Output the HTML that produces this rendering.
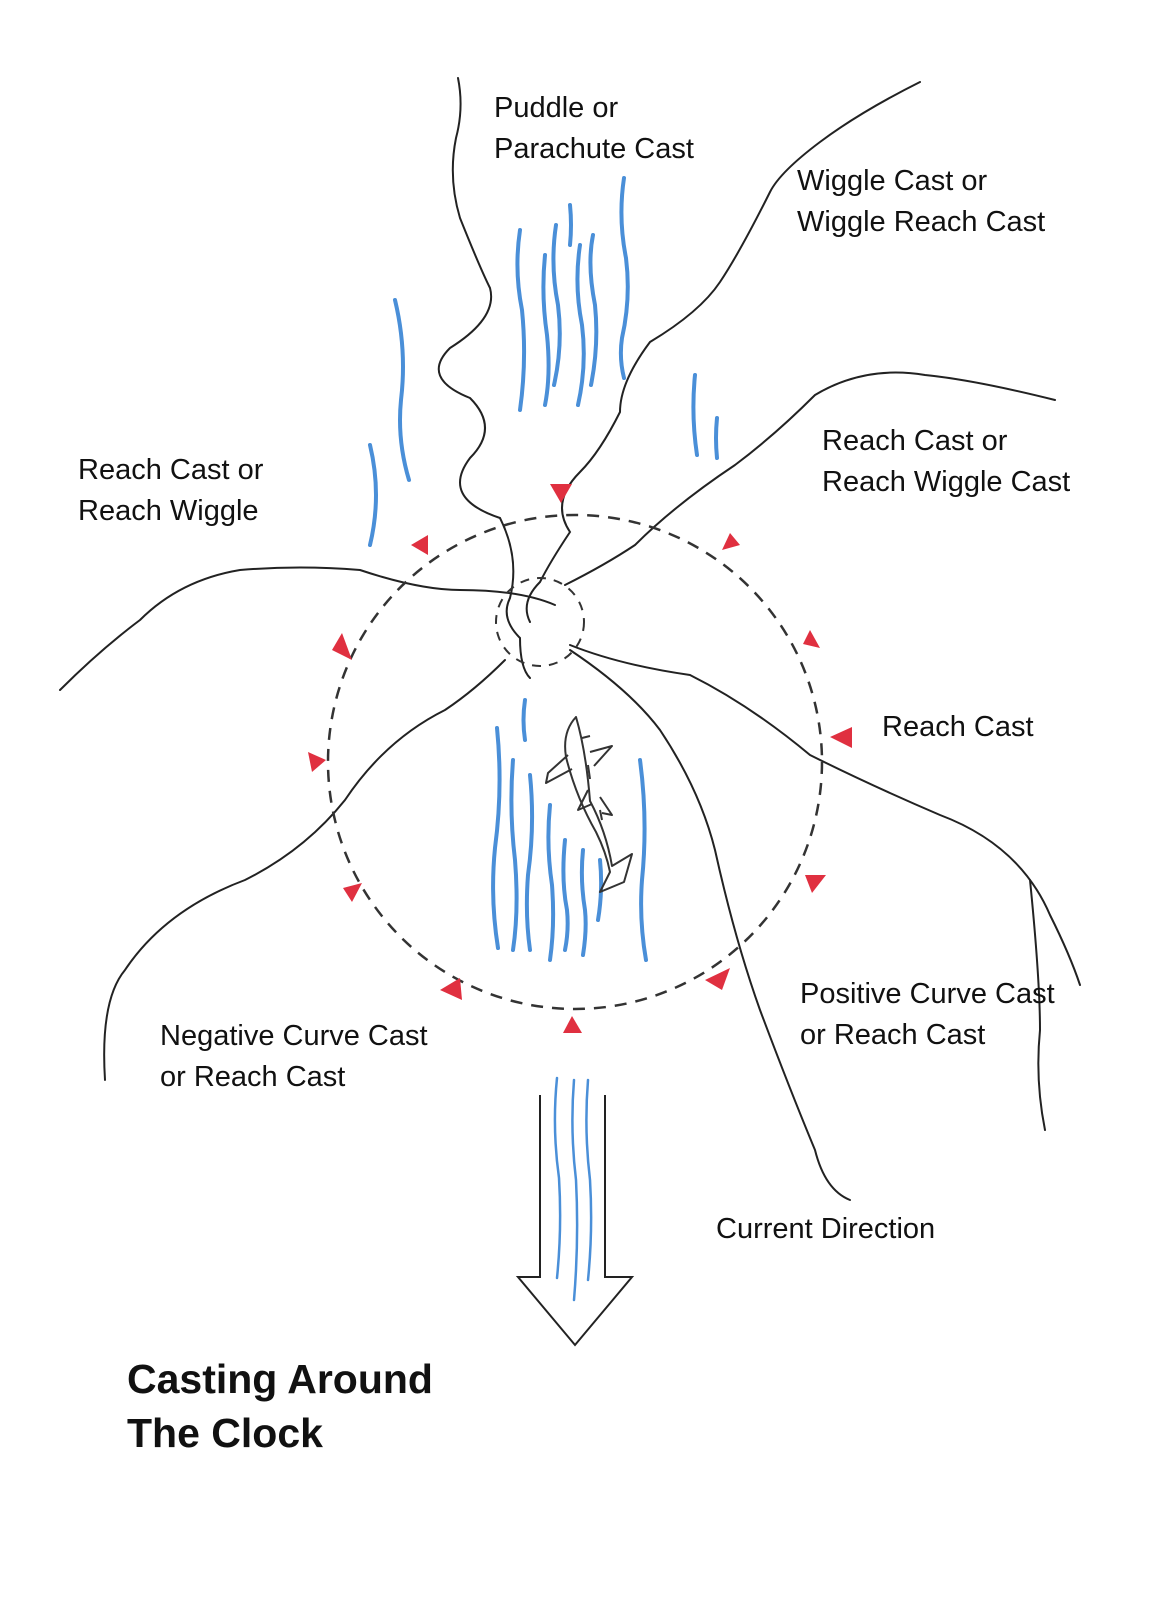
<!DOCTYPE html>
<html><head><meta charset="utf-8"><style>
html,body{margin:0;padding:0;background:#fff}
svg{display:block}
text{font-family:"Liberation Sans",sans-serif;font-size:29px;fill:#111}
</style></head><body>
<svg width="1163" height="1600" viewBox="0 0 1163 1600">
<g stroke="#222" stroke-width="2" fill="#fff">
<path d="M540 1095 L540 1277 L518 1277 L575 1345 L632 1277 L605 1277 L605 1095"/>
</g>
<g fill="none" stroke="#4a8fd8" stroke-width="4" stroke-linecap="round">
<path d="M624 178 q-6 40 2 80 q5 40 -4 80 q-3 20 2 40"/>
<path d="M593 235 q-6 30 2 70 q4 40 -4 80"/>
<path d="M570 205 q2 20 0 40"/>
<path d="M556 225 q-6 40 2 80 q5 40 -4 80"/>
<path d="M580 245 q-6 40 2 80 q5 40 -4 80"/>
<path d="M520 230 q-6 40 2 80 q5 50 -2 100"/>
<path d="M545 255 q-4 40 2 80 q4 40 -2 70"/>
<path d="M395 300 q12 50 6 100 q-4 40 8 80"/>
<path d="M370 445 q12 50 0 100"/>
<path d="M695 375 q-4 40 2 80"/>
<path d="M717 418 q-2 20 0 40"/>
<path d="M525 700 q-3 20 0 40"/>
<path d="M497 728 q6 60 -2 120 q-5 50 3 100"/>
<path d="M513 760 q-4 50 2 100 q4 50 -2 90"/>
<path d="M530 775 q5 50 -2 100 q-3 40 2 75"/>
<path d="M550 805 q-4 40 2 80 q3 40 -2 75"/>
<path d="M565 840 q-4 40 2 70 q2 20 -2 40"/>
<path d="M583 850 q-3 30 2 60 q2 20 -2 45"/>
<path d="M600 860 q3 30 -2 60"/>
<path d="M640 760 q8 60 2 120 q-3 40 4 80"/>
</g>
<g fill="none" stroke="#4a8fd8" stroke-width="2.5" stroke-linecap="round">
<path d="M557 1078 q-5 50 2 100 q3 50 -2 100"/>
<path d="M574 1080 q-4 50 2 100 q3 60 -2 120"/>
<path d="M588 1080 q-4 50 2 100 q3 50 -2 100"/>
</g>
<g fill="none" stroke="#222" stroke-width="2" stroke-linecap="round">
<path d="M458 78 q6 30 -2 60 q-8 40 4 80 q20 50 30 70 q8 30 -40 60 q-30 30 20 50 q30 30 0 60 q-30 40 30 60 q20 40 10 80 q-10 20 10 40 q0 30 10 40"/>
<path d="M920 82 q-60 30 -100 60 q-40 30 -50 50 q-30 60 -50 90 q-20 30 -70 60 q-30 40 -30 70 q-20 40 -40 60 q-30 30 -10 60 q-20 30 -30 50 q-20 20 -10 40"/>
<path d="M1055 400 q-80 -20 -130 -25 q-60 -10 -110 20 q-40 40 -80 70 q-60 40 -100 80 q-30 20 -70 40"/>
<path d="M60 690 q40 -40 80 -70 q40 -40 100 -50 q60 -5 120 0 q60 20 100 20 q60 0 95 15"/>
<path d="M105 1080 q-5 -80 20 -110 q40 -60 120 -90 q60 -30 100 -80 q40 -60 100 -90 q30 -20 60 -50"/>
<path d="M570 645 q50 20 120 30 q60 30 120 80 q60 30 130 60 q80 30 110 100 q20 40 30 70"/>
<path d="M1030 880 q10 100 10 150 q-5 50 5 100"/>
<path d="M570 650 q60 40 90 80 q40 60 55 120 q20 90 45 160 q30 80 55 140 q10 40 35 50"/>
</g>
<circle cx="575" cy="762" r="247" fill="none" stroke="#333" stroke-width="2.5" stroke-dasharray="12 9"/>
<circle cx="540" cy="622" r="44" fill="none" stroke="#333" stroke-width="2" stroke-dasharray="9 8"/>
<g fill="#e03040">
<polygon points="550,484 572,484 561,503"/>
<polygon points="411,545 428,535 428,555"/>
<polygon points="722,550 740,545 730,533"/>
<polygon points="332,650 352,660 342,633"/>
<polygon points="803,644 820,648 810,630"/>
<polygon points="308,752 326,760 312,772"/>
<polygon points="830,737 852,727 852,748"/>
<polygon points="343,888 362,883 352,902"/>
<polygon points="805,875 826,875 812,893"/>
<polygon points="440,990 460,978 462,1000"/>
<polygon points="705,980 730,968 722,990"/>
<polygon points="563,1033 582,1033 572,1016"/>
</g>
<g fill="none" stroke="#333" stroke-width="2" stroke-linejoin="round">
<path d="M576 717 q-14 15 -10 40 q10 40 30 75 q10 20 14 40 l-10 20 l24 -10 l8 -28 l-20 12 q-6 -35 -22 -65 q-4 -50 -14 -84z"/>
<path d="M568 755 l-20 18 l-2 10 l26 -14"/>
<path d="M590 752 l22 -6 l-18 20"/>
<path d="M588 790 l-10 20 l14 -6"/>
<path d="M600 797 l12 18 l-10 -2"/>
<path d="M582 738 l8 -2 M588 765 l2 14 M600 810 l2 10"/>
</g>
<text x="494" y="117">Puddle or</text>
<text x="494" y="158">Parachute Cast</text>
<text x="797" y="190">Wiggle Cast or</text>
<text x="797" y="231">Wiggle Reach Cast</text>
<text x="822" y="450">Reach Cast or</text>
<text x="822" y="491">Reach Wiggle Cast</text>
<text x="78" y="479">Reach Cast or</text>
<text x="78" y="520">Reach Wiggle</text>
<text x="882" y="736">Reach Cast</text>
<text x="800" y="1003">Positive Curve Cast</text>
<text x="800" y="1044">or Reach Cast</text>
<text x="160" y="1045">Negative Curve Cast</text>
<text x="160" y="1086">or Reach Cast</text>
<text x="716" y="1238">Current Direction</text>
<text x="127" y="1393" style="font-size:41px;font-weight:bold">Casting Around</text>
<text x="127" y="1447" style="font-size:41px;font-weight:bold">The Clock</text>
</svg>
</body></html>
